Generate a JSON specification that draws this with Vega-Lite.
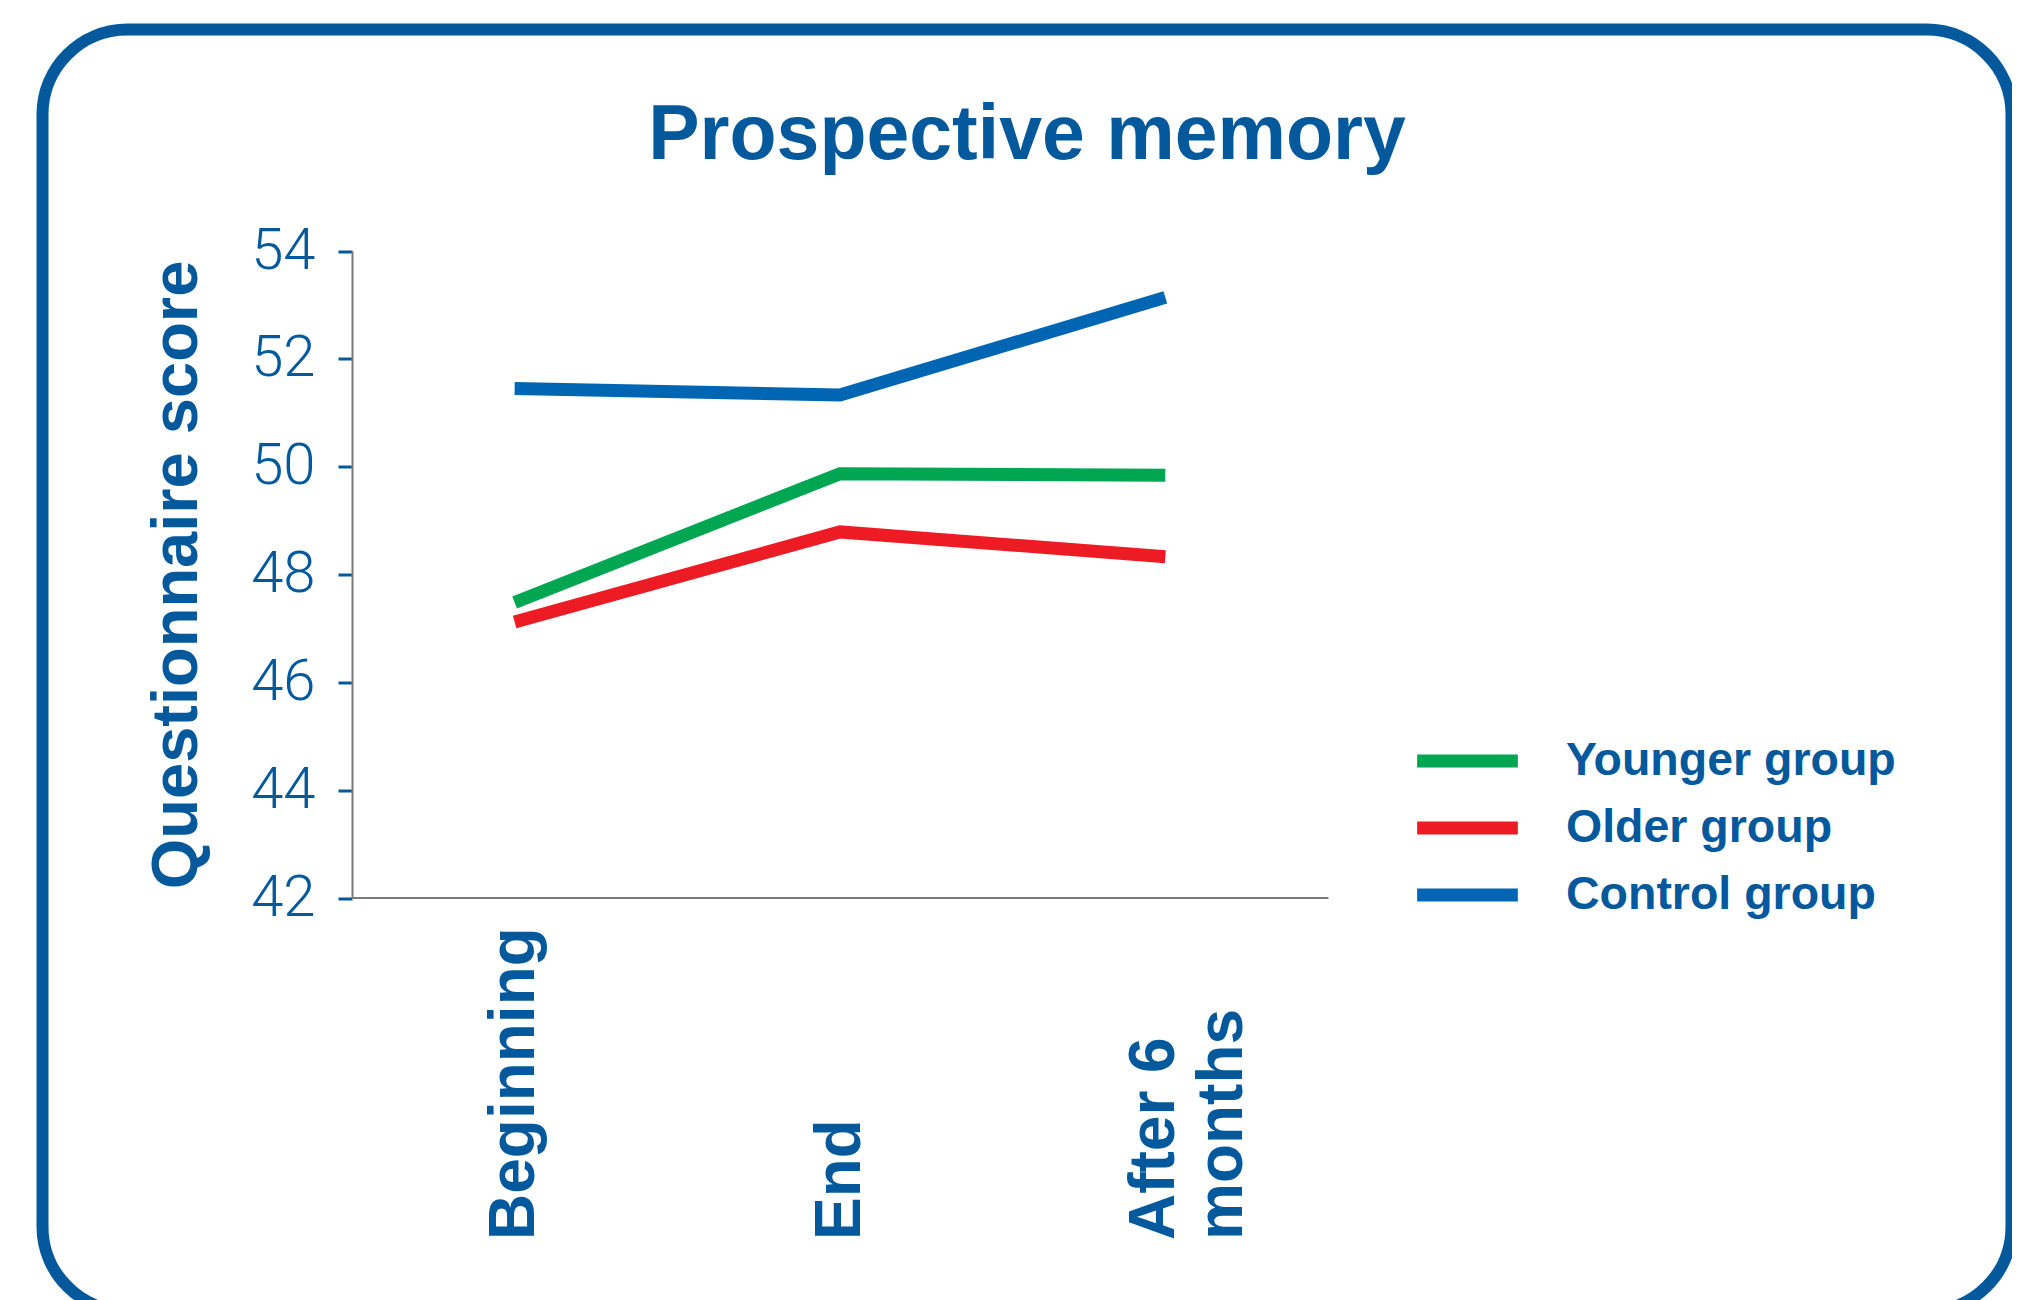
{
  "$schema": "https://vega.github.io/schema/vega-lite/v6.json",
  "autosize": {"type": "none"},
  "padding": {"left": 42.5, "top": 29.5, "right": 0, "bottom": 0},
  "width": 1969,
  "height": 1282,
  "background": "white",
  "title": {
    "text": "Prospective memory",
    "font": "Liberation Sans",
    "fontSize": 77,
    "fontWeight": "bold",
    "color": "#03599c",
    "anchor": "middle",
    "frame": "group",
    "baseline": "alphabetic",
    "offset": -206
  },
  "data": {
    "values": [
      {"time": "Beginning", "group": "Younger group", "score": 47.48},
      {"time": "End", "group": "Younger group", "score": 49.87},
      {"time": "After 6 months", "group": "Younger group", "score": 49.84},
      {"time": "Beginning", "group": "Older group", "score": 47.12},
      {"time": "End", "group": "Older group", "score": 48.79},
      {"time": "After 6 months", "group": "Older group", "score": 48.33},
      {"time": "Beginning", "group": "Control group", "score": 51.45},
      {"time": "End", "group": "Control group", "score": 51.33},
      {"time": "After 6 months", "group": "Control group", "score": 53.14}
    ]
  },
  "mark": {"type": "line", "strokeWidth": 13, "strokeCap": "butt", "strokeJoin": "miter"},
  "encoding": {
    "x": {
      "field": "time",
      "type": "ordinal",
      "sort": ["Beginning", "End", "After 6 months"],
      "scale": {"type": "point", "range": [309.5, 1285.5], "padding": 0.5},
      "axis": {
        "title": null,
        "offset": -414,
        "ticks": false,
        "tickSize": 0,
        "domainColor": "#7a7a7a",
        "domainWidth": 2,
        "labelAngle": -90,
        "labelAlign": "left",
        "labelBaseline": "middle",
        "labelPadding": 342,
        "labelFont": "Liberation Sans",
        "labelFontWeight": "bold",
        "labelFontSize": 64,
        "labelColor": "#03599c",
        "labelLineHeight": 68,
        "labelLimit": 2000,
        "labelOffset": {"condition": {"test": "datum.value == 'After 6 months'", "value": -11}, "value": 0},
        "labelExpr": "datum.value == 'After 6 months' ? ['After 6', 'months'] : datum.label",
        "labelOverlap": false,
        "labelBound": false
      }
    },
    "y": {
      "field": "score",
      "type": "quantitative",
      "scale": {"domain": [42, 54], "range": [868.5, 221.5], "nice": false, "zero": false},
      "axis": {
        "title": "Questionnaire score",
        "titleFont": "Liberation Sans",
        "titleFontWeight": "bold",
        "titleFontSize": 65,
        "titleColor": "#03599c",
        "titlePadding": 40,
        "offset": -309.5,
        "values": [42, 44, 46, 48, 50, 52, 54],
        "grid": false,
        "domainColor": "#7a7a7a",
        "domainWidth": 2,
        "tickColor": "#03599c",
        "tickSize": 14,
        "tickWidth": 3,
        "labelFont": "Roboto",
        "labelFontWeight": 300,
        "labelFontSize": 58,
        "labelColor": "#03599c",
        "labelPadding": 23,
        "labelOverlap": false,
        "labelBound": false
      }
    },
    "color": {
      "field": "group",
      "type": "nominal",
      "sort": ["Younger group", "Older group", "Control group"],
      "scale": {"domain": ["Younger group", "Older group", "Control group"], "range": ["#00a651", "#ed1c24", "#0066b3"]},
      "legend": {
        "title": null,
        "orient": "none",
        "legendX": 1392,
        "legendY": 698.5,
        "padding": 0,
        "symbolType": "M-1.9,0H1.9",
        "symbolSize": 2809,
        "symbolStrokeWidth": 13,
        "labelOffset": 65.5,
        "labelFont": "Liberation Sans",
        "labelFontWeight": "bold",
        "labelFontSize": 46.5,
        "labelColor": "#03599c",
        "rowPadding": 8,
        "labelLimit": 600
      }
    }
  },
  "config": {
    "view": {"stroke": "#03599c", "strokeWidth": 12, "cornerRadius": 85, "fill": "white"}
  }
}
